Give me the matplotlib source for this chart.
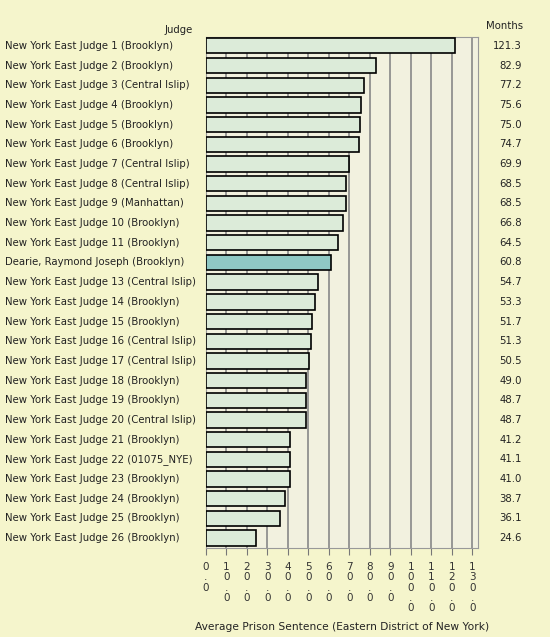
import matplotlib.pyplot as plt
from matplotlib.transforms import blended_transform_factory

judges = [
    'New York East Judge 1 (Brooklyn)',
    'New York East Judge 2 (Brooklyn)',
    'New York East Judge 3 (Central Islip)',
    'New York East Judge 4 (Brooklyn)',
    'New York East Judge 5 (Brooklyn)',
    'New York East Judge 6 (Brooklyn)',
    'New York East Judge 7 (Central Islip)',
    'New York East Judge 8 (Central Islip)',
    'New York East Judge 9 (Manhattan)',
    'New York East Judge 10 (Brooklyn)',
    'New York East Judge 11 (Brooklyn)',
    'Dearie, Raymond Joseph (Brooklyn)',
    'New York East Judge 13 (Central Islip)',
    'New York East Judge 14 (Brooklyn)',
    'New York East Judge 15 (Brooklyn)',
    'New York East Judge 16 (Central Islip)',
    'New York East Judge 17 (Central Islip)',
    'New York East Judge 18 (Brooklyn)',
    'New York East Judge 19 (Brooklyn)',
    'New York East Judge 20 (Central Islip)',
    'New York East Judge 21 (Brooklyn)',
    'New York East Judge 22 (01075_NYE)',
    'New York East Judge 23 (Brooklyn)',
    'New York East Judge 24 (Brooklyn)',
    'New York East Judge 25 (Brooklyn)',
    'New York East Judge 26 (Brooklyn)',
]
months = [121.3, 82.9, 77.2, 75.6, 75.0, 74.7, 69.9, 68.5, 68.5, 66.8, 64.5,
          60.8, 54.7, 53.3, 51.7, 51.3, 50.5, 49.0, 48.7, 48.7, 41.2, 41.1,
          41.0, 38.7, 36.1, 24.6]
highlight = 'Dearie, Raymond Joseph (Brooklyn)'
xticks = list(range(0, 131, 10))

bg = '#f5f5cc'
fig = plt.figure(figsize=(5.5, 6.37), dpi=100, facecolor=bg)
ax = fig.add_axes([0.3745, 0.1397, 0.4945, 0.8023])
ax.set_facecolor('#f2f1df')

ypos = list(range(len(judges)))
colors = ['#8fc8c4' if j == highlight else '#dcebd9' for j in judges]
ax.barh(ypos, months, height=0.78, color=colors, edgecolor='black',
        linewidth=1.2, zorder=3)

ax.set_xlim(0, 132.7)
ax.set_ylim(len(judges) - 0.5, -0.45)
ax.set_xticks(xticks)
ax.set_xticklabels(['\n'.join(f'{v:.1f}') for v in xticks], fontsize=7.5,
                   va='top', linespacing=1.05, color='#333333')
ax.set_yticks([])
ax.tick_params(axis='x', length=5, color='#777777', pad=5)
ax.grid(axis='x', color='#888888', linewidth=1.2, zorder=1)
for s in ax.spines.values():
    s.set_color('#999999')

tr = blended_transform_factory(fig.transFigure, ax.transData)
for i, (j, m) in enumerate(zip(judges, months)):
    fig.text(5 / 550, i, j, transform=tr, fontsize=7.3, va='center',
             ha='left', color='#222222')
    fig.text(522 / 550, i, f'{m:.1f}', transform=tr, fontsize=7.3,
             va='center', ha='right', color='#222222')

fig.text(193 / 550, 1 - 30 / 637, 'Judge', fontsize=7.3, ha='right',
         va='center', color='#222222')
fig.text(505 / 550, 1 - 26 / 637, 'Months', fontsize=7.3, ha='center',
         va='center', color='#222222')
fig.text(342 / 550, 1 - 627 / 637,
         'Average Prison Sentence (Eastern District of New York)',
         fontsize=7.7, ha='center', va='center', color='#222222')

fig.savefig('out.png', dpi=100, facecolor=bg)
